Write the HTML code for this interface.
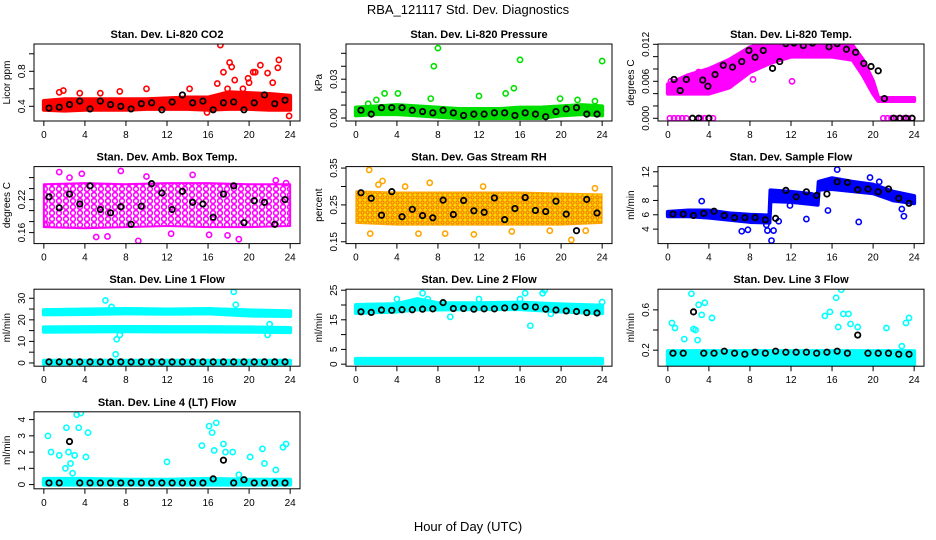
<!DOCTYPE html>
<html><head><meta charset="utf-8"><style>
body{margin:0;background:#fff;}
svg{display:block;font-family:"Liberation Sans",sans-serif;}
</style></head><body>
<svg id="chart" width="936" height="540" viewBox="0 0 936 540" xmlns="http://www.w3.org/2000/svg">
<defs>
<pattern id="pat-pink" width="7" height="6" patternUnits="userSpaceOnUse">
<rect width="7" height="6" fill="#fff"/>
<circle cx="3" cy="3" r="2.4" fill="none" stroke="#f0f" stroke-width="1.6"/>
</pattern>
<pattern id="pat-rh" width="5" height="5" patternUnits="userSpaceOnUse">
<rect width="5" height="5" fill="#f5d800"/>
<circle cx="2.5" cy="2.5" r="1.6" fill="none" stroke="#ff6a00" stroke-width="1"/>
</pattern>
</defs>
<rect width="936" height="540" fill="#fff"/>
<text x="468" y="14" text-anchor="middle" font-size="13">RBA_121117  Std. Dev. Diagnostics</text>
<text x="468" y="531" text-anchor="middle" font-size="13">Hour of Day (UTC)</text>
</svg>
<script>
// ---- shared x data ----
const xTicks = [0,4,8,12,16,20,24];
const hours = [0.5,1.5,2.5,3.5,4.5,5.5,6.5,7.5,8.5,9.5,10.5,11.5,12.5,13.5,14.5,15.5,16.5,17.5,18.5,19.5,20.5,21.5,22.5,23.5];

// ---- CO2 ----
const co2BandX=[0,2,4,6,8,10,12,14,16,18,20,22,24];
const co2BandLo=[0.36,0.35,0.36,0.36,0.36,0.37,0.37,0.37,0.36,0.37,0.37,0.36,0.36];
const co2BandHi=[0.46,0.48,0.48,0.48,0.48,0.48,0.49,0.50,0.50,0.56,0.55,0.54,0.52];
const co2OutX=[17.2,18.1,18.3,17.5,21.1,22.9,22.8,20.4,20.6,19.9,21.8,16.9,18.6,22.3,10,14.2,5.5,7.4,1.9,23.9,15.9,20.0,17.9,19.4,1.5,3.5];
const co2OutY=[1.1,0.9,0.85,0.79,0.87,0.93,0.84,0.79,0.79,0.72,0.78,0.66,0.70,0.67,0.60,0.60,0.55,0.57,0.58,0.29,0.33,0.67,0.60,0.60,0.56,0.55];
const co2Mean=[0.38,0.39,0.42,0.46,0.37,0.46,0.42,0.40,0.37,0.43,0.44,0.36,0.45,0.53,0.44,0.46,0.36,0.44,0.45,0.36,0.44,0.53,0.43,0.47];
const co2Ticks=[0.4,0.6,0.8,1.0]; const co2Labels=[0.4,0.8];
// ---- Pressure ----
const prBandX=[0,2,4,6,8,10,12,14,16,18,20,22,24];
const prBandLo=[0.002,0.003,0.003,0.002,0.001,0.000,0.000,0.000,0.000,0.000,0.002,0.003,0.002];
const prBandHi=[0.008,0.009,0.010,0.009,0.008,0.007,0.007,0.007,0.008,0.008,0.009,0.010,0.009];
const prOutX=[8,7.6,16,24,2.8,4.1,7.3,12,14.6,15.4,2,19.9,21.6,23.3,1.2];
const prOutY=[0.054,0.040,0.045,0.044,0.019,0.019,0.015,0.017,0.019,0.023,0.014,0.015,0.014,0.013,0.011];
const prMean=[0.006,0.003,0.008,0.008,0.008,0.006,0.005,0.004,0.006,0.004,0.002,0.003,0.003,0.004,0.004,0.002,0.004,0.003,0.001,0.005,0.007,0.008,0.003,0.003];
const prTicks=[0,0.01,0.02,0.03,0.04,0.05]; const prLabels=[0,0.03];
// ---- Li-820 Temp ----
const tpBandX=[0,2,4,6,8,10,12,14,16,18,19,20,20.5,24];
const tpBandLo=[0.0040,0.0040,0.0040,0.0050,0.0075,0.0090,0.0100,0.0100,0.0100,0.0095,0.0070,0.0040,0.0028,0.0028];
const tpBandHi=[0.0055,0.0070,0.0080,0.0095,0.0115,0.0125,0.0125,0.0125,0.0125,0.0118,0.0095,0.0060,0.0033,0.0033];
const tpOutX=[0.2,0.6,1.0,1.4,1.8,3.2,3.6,4.4,21.0,21.4,21.8,22.2,22.6,23.0,23.4,23.8,0.3,1.6,3.0,8.3,12.1,19.6];
const tpOutY=[0,0,0,0,0,0,0,0,0,0,0,0,0,0,0,0,0.0060,0.0062,0.0075,0.0063,0.0060,0.0060];
const tpMeanX=[0.6,1.2,1.8,2.4,3.0,3.4,3.9,4.6,5.4,6.3,7.2,7.9,8.5,9.3,10.2,10.9,11.5,12.3,13.2,14.1,14.8,15.7,16.5,17.4,18.3,19.1,19.8,20.5,21.1,22.0,22.6,23.2,23.8,4.0];
const tpMeanY=[0.0063,0.0045,0.0063,0,0,0.0062,0.0052,0.0071,0.0086,0.0083,0.0092,0.0110,0.0099,0.0110,0.0081,0.0092,0.0121,0.0122,0.0118,0.0122,0.0126,0.0116,0.0121,0.0112,0.0107,0.0089,0.0084,0.0077,0.0032,0,0,0,0,0];
const tpTicks=[0,0.002,0.004,0.006,0.008,0.010,0.012]; const tpLabels=[0,0.006,0.012];
// ---- Amb Box Temp ----
const abBandX=[0,4,8,12,16,20,24];
const abBandLo=[0.170,0.168,0.170,0.172,0.170,0.170,0.172];
const abBandHi=[0.248,0.250,0.248,0.250,0.250,0.248,0.248];
const abOutX=[1.5,3.7,9.2,7.5,14.5,19.0,22.6,5.1,2.5,12.4,17.9,23.6,0.3,10.0,16.1,6.2];
const abOutY=[0.270,0.267,0.145,0.272,0.265,0.148,0.255,0.152,0.260,0.158,0.155,0.250,0.175,0.262,0.156,0.153];
const abMean=[0.225,0.205,0.230,0.212,0.245,0.202,0.196,0.207,0.175,0.208,0.249,0.232,0.202,0.235,0.215,0.212,0.188,0.230,0.245,0.178,0.218,0.215,0.175,0.220];
const abTicks=[0.16,0.18,0.20,0.22,0.24,0.26]; const abLabels=[0.16,0.22];
// ---- Gas Stream RH ----
const rhBandX=[0,4,8,12,16,20,24];
const rhBandLo=[0.200,0.195,0.195,0.195,0.195,0.195,0.200];
const rhBandHi=[0.288,0.285,0.285,0.285,0.285,0.282,0.280];
const rhOutX=[1.3,2.6,7.2,8.7,4.8,12.4,18.9,21.0,1.4,6.1,22.4,15.2,11.5,2.2,23.3];
const rhOutY=[0.345,0.315,0.310,0.172,0.300,0.300,0.180,0.155,0.172,0.172,0.180,0.178,0.170,0.305,0.295];
const rhMean=[0.283,0.268,0.222,0.286,0.218,0.238,0.221,0.215,0.263,0.224,0.262,0.234,0.230,0.269,0.210,0.240,0.270,0.235,0.232,0.260,0.225,0.180,0.265,0.228];
const rhTicks=[0.15,0.20,0.25,0.30,0.35]; const rhLabels=[0.15,0.25,0.35];
// ---- Sample Flow ----
const sfBandX=[0,2,4,6,8,9.9,10.0,12,14,14.6,14.7,16,18,20,22,24];
const sfBandLo=[5.8,5.8,5.6,5.3,5.0,4.9,7.9,7.8,7.5,7.4,9.5,9.6,9.3,9.0,8.0,7.6];
const sfBandHi=[6.4,6.6,6.6,6.2,6.0,5.9,9.4,9.2,8.9,8.6,10.6,11.1,10.6,10.2,9.2,8.6];
const sfOutX=[3.3,7.2,7.8,10.1,10.3,10.8,11.9,13.5,15.6,16.5,18.6,19.7,20.6,22.8,9.6,9.7,23.0];
const sfOutY=[7.9,3.7,3.9,2.4,3.8,5.1,7.3,5.4,6.6,12.3,5.0,11.2,10.6,6.8,4.6,3.8,5.8];
const sfMean=[6.1,6.1,5.9,6.2,6.5,5.9,5.6,5.6,5.6,5.3,5.5,9.4,8.5,9.2,8.7,8.9,10.6,10.5,9.5,9.6,9.2,9.6,8.3,7.6];
const sfTicks=[4,6,8,10,12]; const sfLabels=[4,6,8,12];
// ---- Line 1 Flow ----
const l1BandX=[0,4,8,12,16,20,24];
const l1TopLo=[22.5,22.7,23.0,22.8,23.0,22.0,21.8];
const l1TopHi=[24.5,24.8,25.0,24.8,25.0,24.4,24.0];
const l1MidLo=[14.5,14.6,14.7,14.6,14.6,14.5,14.3];
const l1MidHi=[16.5,16.6,16.7,16.6,16.6,16.5,16.2];
const l1LowLo=[-0.3,-0.3,-0.3,-0.3,-0.3,-0.3,-0.3];
const l1LowHi=[1.0,1.0,1.0,1.0,1.0,1.0,1.0];
const l1OutX=[6.0,7.0,7.1,7.4,7.6,18.5,18.7,22.0,21.8,6.6];
const l1OutY=[29,4,11,13,15,33,27,18,13,26];
const l1Mean=[0.5,0.5,0.5,0.5,0.5,0.5,0.5,0.5,0.5,0.5,0.5,0.5,0.5,0.5,0.5,0.5,0.5,0.5,0.5,0.5,0.5,0.5,0.5,0.5];
const l1Ticks=[0,5,10,15,20,25,30]; const l1Labels=[0,10,20,30];
// ---- Line 2 Flow ----
const l2BandX=[0,4,6,8,12,16,20,24];
const l2TopLo=[17.3,17.8,18.5,18.5,18.6,18.6,17.8,17.2];
const l2TopHi=[20.0,20.3,22.0,20.6,20.6,20.8,20.2,19.8];
const l2LowLo=[0.3,0.3,0.3,0.3,0.3,0.3,0.3,0.3];
const l2LowHi=[1.8,1.8,1.8,1.8,1.8,1.8,1.8,1.8];
const l2OutX=[4.0,9.2,12.0,16.0,16.5,17.0,18.2,18.4,19.0,24.0,6.5,7.0];
const l2OutY=[22,16,22,22,24,13,24,25,17,21,24,22];
const l2Mean=[17.7,17.5,18.3,18.2,18.4,18.4,18.6,18.7,20.8,18.8,18.8,18.6,18.7,18.7,19.0,19.3,19.5,19.3,18.6,18.3,18.0,17.8,17.4,17.3];
const l2Ticks=[0,5,10,15,20,25]; const l2Labels=[0,5,15,25];
// ---- Line 3 Flow ----
const l3BandX=[0,4,8,12,16,20,24];
const l3BandLo=[0.05,0.05,0.05,0.05,0.05,0.05,0.05];
const l3BandHi=[0.19,0.19,0.19,0.19,0.19,0.19,0.19];
const l3OutX=[0.4,0.7,1.6,2.3,2.5,2.7,3.0,3.3,3.6,2.9,4.3,15.8,16.4,16.6,16.9,17.1,17.6,17.8,18.5,21.3,22.8,23.2,23.5,15.3];
const l3OutY=[0.47,0.42,0.31,0.76,0.41,0.40,0.65,0.55,0.67,0.30,0.52,0.58,0.72,0.43,0.80,0.56,0.56,0.46,0.43,0.42,0.24,0.47,0.52,0.54];
const l3Mean=[0.17,0.17,0.58,0.17,0.17,0.19,0.17,0.16,0.18,0.17,0.19,0.18,0.18,0.18,0.17,0.18,0.19,0.17,0.35,0.17,0.17,0.17,0.16,0.16];
const l3Ticks=[0.2,0.4,0.6]; const l3Labels=[0.2,0.6];
// ---- Line 4 Flow ----
const l4BandX=[0,4,8,12,16,20,24];
const l4BandLo=[0.0,0.0,0.0,0.0,0.0,0.0,0.0];
const l4BandHi=[0.35,0.35,0.3,0.3,0.35,0.3,0.3];
const l4OutX=[0.4,0.7,1.5,2.1,2.2,2.4,2.6,2.8,3.0,3.2,3.4,3.6,4.1,4.3,12.0,15.4,16.1,16.4,16.6,16.8,17.5,17.7,18.4,19.0,20.1,21.3,21.5,22.6,23.3,23.6];
const l4OutY=[3.0,2.0,1.8,1.0,3.5,2.0,1.3,0.7,1.8,4.3,3.5,4.4,1.7,3.2,1.4,2.4,3.6,3.2,2.1,3.8,2.5,2.0,2.0,0.6,1.7,2.2,1.3,0.9,2.3,2.5];
const l4Mean=[0.1,0.1,2.65,0.1,0.1,0.1,0.1,0.1,0.1,0.1,0.1,0.1,0.1,0.1,0.1,0.1,0.35,1.5,0.1,0.3,0.1,0.1,0.1,0.1];
const l4Ticks=[0,1,2,3,4]; const l4Labels=[0,1,2,3,4];

// ---- layout (not data) ----
const colX=[34,346,658], rowY=[44,166.6,289.2,411.8], W=266, H=77;
const panels=[
 {name:'co2',title:'Stan. Dev. Li-820 CO2',yt:'Licor ppm',c:0,r:0,y0:0.232,y1:1.112,col:'#f00',bands:[[co2BandX,co2BandLo,co2BandHi]],ox:co2OutX,oy:co2OutY,mx:hours,my:co2Mean,ticks:co2Ticks,labels:co2Labels,dec:1},
 {name:'pressure',title:'Stan. Dev. Li-820 Pressure',yt:'kPa',c:1,r:0,y0:-0.0023,y1:0.0572,col:'#00e000',bands:[[prBandX,prBandLo,prBandHi]],ox:prOutX,oy:prOutY,mx:hours,my:prMean,ticks:prTicks,labels:prLabels,dec:2},
 {name:'li820-temp',title:'Stan. Dev. Li-820 Temp.',yt:'degrees C',c:2,r:0,y0:-0.00044,y1:0.01205,col:'#f0f',bands:[[tpBandX,tpBandLo,tpBandHi]],ox:tpOutX,oy:tpOutY,mx:tpMeanX,my:tpMeanY,ticks:tpTicks,labels:tpLabels,dec:3},
 {name:'amb-box-temp',title:'Stan. Dev. Amb. Box Temp.',yt:'degrees C',c:0,r:1,y0:0.140,y1:0.280,col:'#f0f',fill2:'url(#pat-pink)',bw:2,bands:[[abBandX,abBandLo,abBandHi]],ox:abOutX,oy:abOutY,mx:hours,my:abMean,ticks:abTicks,labels:abLabels,dec:2},
 {name:'gas-stream-rh',title:'Stan. Dev. Gas Stream RH',yt:'percent',c:1,r:1,y0:0.145,y1:0.354,col:'#ffa500',fill2:'url(#pat-rh)',bw:1,bands:[[rhBandX,rhBandLo,rhBandHi]],ox:rhOutX,oy:rhOutY,mx:hours,my:rhMean,ticks:rhTicks,labels:rhLabels,dec:2},
 {name:'sample-flow',title:'Stan. Dev. Sample Flow',yt:'ml/min',c:2,r:1,y0:1.98,y1:12.72,col:'#0000ff',bands:[[sfBandX,sfBandLo,sfBandHi]],ox:sfOutX,oy:sfOutY,mx:hours,my:sfMean,ticks:sfTicks,labels:sfLabels,dec:0},
 {name:'line1-flow',title:'Stan. Dev. Line 1 Flow',yt:'ml/min',c:0,r:2,y0:-1.5,y1:34.2,col:'#00ffff',bands:[[l1BandX,l1TopLo,l1TopHi],[l1BandX,l1MidLo,l1MidHi],[l1BandX,l1LowLo,l1LowHi]],ox:l1OutX,oy:l1OutY,mx:hours,my:l1Mean,ticks:l1Ticks,labels:l1Labels,dec:0},
 {name:'line2-flow',title:'Stan. Dev. Line 2 Flow',yt:'ml/min',c:1,r:2,y0:-0.68,y1:25.34,col:'#00ffff',bands:[[l2BandX,l2TopLo,l2TopHi],[l2BandX,l2LowLo,l2LowHi]],ox:l2OutX,oy:l2OutY,mx:hours,my:l2Mean,ticks:l2Ticks,labels:l2Labels,dec:0},
 {name:'line3-flow',title:'Stan. Dev. Line 3 Flow',yt:'ml/min',c:2,r:2,y0:0.041,y1:0.805,col:'#00ffff',bands:[[l3BandX,l3BandLo,l3BandHi]],ox:l3OutX,oy:l3OutY,mx:hours,my:l3Mean,ticks:l3Ticks,labels:l3Labels,dec:1},
 {name:'line4-flow',title:'Stan. Dev. Line 4 (LT) Flow',yt:'ml/min',c:0,r:3,y0:-0.26,y1:4.48,col:'#00ffff',bands:[[l4BandX,l4BandLo,l4BandHi]],ox:l4OutX,oy:l4OutY,mx:hours,my:l4Mean,ticks:l4Ticks,labels:l4Labels,dec:0}
];
const svg=document.getElementById('chart');
const NS='http://www.w3.org/2000/svg';
function mk(tag,attrs,parent){const e=document.createElementNS(NS,tag);for(const k in attrs)e.setAttribute(k,attrs[k]);parent.appendChild(e);return e;}
const X0=-0.96,X1=24.96;
panels.forEach(p=>{
  const bx=colX[p.c], by=rowY[p.r];
  const sx=v=>bx+(v-X0)/(X1-X0)*W;
  const sy=v=>by+H-(v-p.y0)/(p.y1-p.y0)*H;
  const g=mk('g',{},svg);
  
  
  const clipId='clip-'+p.name;
  const cp=mk('clipPath',{id:clipId},g); mk('rect',{x:bx,y:by,width:W,height:H},cp);
  const data=mk('g',{'clip-path':'url(#'+clipId+')'},g);
  p.bands.forEach(b=>{
    const [xs,lo,hi]=b;
    let pts=xs.map((x,i)=>sx(x)+','+sy(hi[i]));
    for(let i=xs.length-1;i>=0;i--)pts.push(sx(xs[i])+','+sy(lo[i]));
    const poly=mk('polygon',{points:pts.join(' '),fill:p.fill2||p.col,stroke:p.col,'stroke-width':p.bw||4,'stroke-linejoin':'round'},data);
    
    
  });
  p.ox.forEach((x,i)=>{
    const c=mk('circle',{cx:sx(x),cy:sy(p.oy[i]),r:2.6,fill:'none',stroke:p.col,'stroke-width':1.6},data);
    
    
  });
  p.mx.forEach((x,i)=>{
    const c=mk('circle',{cx:sx(x),cy:sy(p.my[i]),r:2.7,fill:'none',stroke:'#000','stroke-width':1.8},data);
    
    
  });
  const box=mk('rect',{x:bx,y:by,width:W,height:H,fill:'none',stroke:'#000','stroke-width':1},g);
  
  
  const t=mk('text',{x:bx+W/2,y:by-6,'text-anchor':'middle','font-size':11,'font-weight':'bold'},g);
  t.textContent=p.title;
  
  
  xTicks.forEach(v=>{
    mk('line',{x1:sx(v),x2:sx(v),y1:by+H,y2:by+H+5,stroke:'#000'},g);
    const l=mk('text',{x:sx(v),y:by+H+17,'text-anchor':'middle','font-size':10},g);
    l.textContent=v;
    
    
  });
  p.ticks.forEach(v=>{mk('line',{x1:bx-5,x2:bx,y1:sy(v),y2:sy(v),stroke:'#000'},g);});
  p.labels.forEach(v=>{
    const yy=sy(v);
    const l=mk('text',{x:bx-9,y:yy,'text-anchor':'middle','font-size':10,transform:'rotate(-90 '+(bx-9)+' '+yy+')'},g);
    l.textContent=v.toFixed(p.dec);
    
    
  });
  const yt=mk('text',{x:bx-24,y:by+H/2,'text-anchor':'middle','font-size':10,transform:'rotate(-90 '+(bx-24)+' '+(by+H/2)+')'},g);
  yt.textContent=p.yt;
  
  
});
</script>
</body></html>
